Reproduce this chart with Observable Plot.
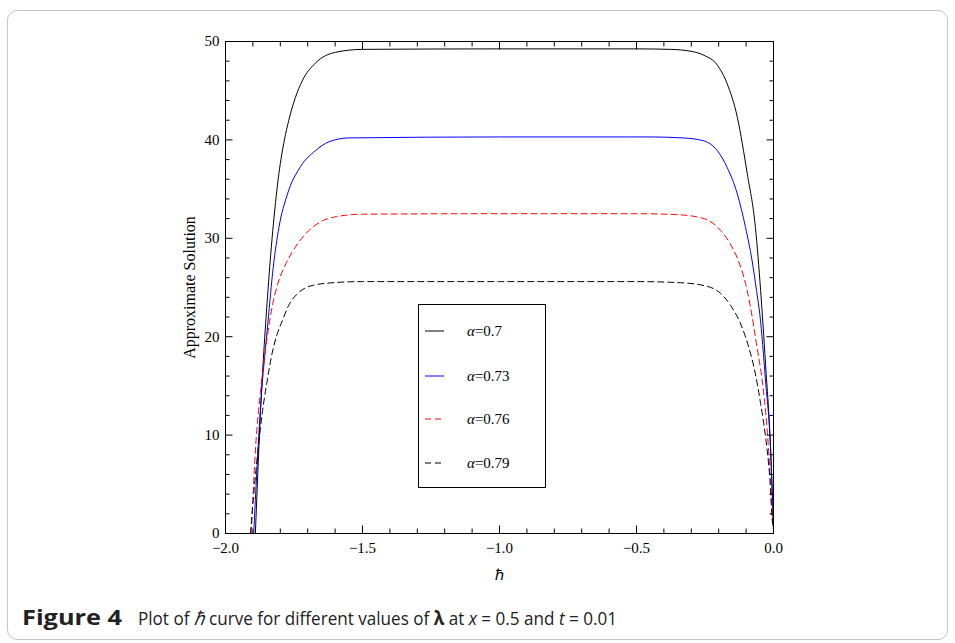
<!DOCTYPE html>
<html>
<head>
<meta charset="utf-8">
<script src="https://cdn.jsdelivr.net/npm/d3@7"></script>
<script src="https://cdn.jsdelivr.net/npm/@observablehq/plot@0.6"></script>
<style>
  html, body { margin: 0; padding: 0; background: #fff; }
  body { width: 955px; height: 643px; position: relative; overflow: hidden; }
  #card { position: absolute; left: 7px; top: 10px; width: 941px; height: 630px; border: 1px solid #c4c4c4; border-radius: 10px; box-sizing: border-box; }
  #chart { position: absolute; left: 0; top: 0; }
  #legend { position: absolute; left: 418px; top: 304px; width: 128px; height: 184px; border: 1px solid #000; box-sizing: border-box; background: #fff; font-family: "Liberation Serif", serif; font-size: 15px; }
  #legend .row { position: absolute; left: 6px; height: 20px; display: flex; align-items: center; }
  #legend .row span { margin-left: 22px; }
  #legend i { font-style: italic; }
  .cap { position: absolute; top: 605px; font-family: "Open Sans", sans-serif; line-height: 26px; color: #222; white-space: nowrap; transform-origin: 0 0; }
  #capHead { left: 22px; font-size: 21px; font-weight: 700; top: 604px; line-height: 27px; }
  #capBody { left: 138px; font-size: 19px; }
</style>
</head>
<body>
<div id="card"></div>
<div id="chart"></div>
<div id="legend"></div>
<div class="cap" id="capHead">Figure 4</div>
<div class="cap" id="capBody">Plot of <i>ℏ</i> curve for different values of <b>λ</b> at <i>x</i> = 0.5 and <i>t</i> = 0.01</div>
<script>
// ---- data ----
const seriesLabels = ["α=0.7", "α=0.73", "α=0.76", "α=0.79"];
const seriesColors = ["#000000", "#0000ff", "#ff0000", "#000000"];
const seriesDash = [null, null, "6,4", "6,4"];

const hbar070 = [-1.891, -1.872, -1.845, -1.805, -1.785, -1.769, -1.745, -1.720, -1.672, -1.599, -1.5, -1.0, -0.5, -0.376, -0.300, -0.254, -0.205, -0.169, -0.132, -0.096, -0.066, -0.047, -0.029, -0.011, 0];
const sol070  = [0, 12.5, 24.7, 36.6, 40.0, 42.0, 44.3, 46.0, 47.8, 48.9, 49.2, 49.25, 49.25, 49.2, 49.0, 48.6, 47.6, 45.7, 42.3, 36.6, 31.1, 24.7, 17.2, 8.8, 0.4];

const hbar073 = [-1.897, -1.873, -1.845, -1.826, -1.805, -1.775, -1.726, -1.672, -1.623, -1.55, -1.0, -0.45, -0.33, -0.254, -0.205, -0.169, -0.132, -0.102, -0.078, -0.062, -0.050, -0.029, -0.011, 0];
const sol073  = [0, 12.5, 21.5, 27.0, 31.1, 34.4, 37.3, 38.9, 39.8, 40.2, 40.3, 40.3, 40.2, 39.9, 38.9, 37.2, 34.5, 31.1, 27.7, 24.7, 22.3, 15.5, 8.8, 0.4];

const hbar076 = [-1.906, -1.890, -1.872, -1.853, -1.830, -1.810, -1.780, -1.743, -1.706, -1.658, -1.596, -1.5, -1.0, -0.5, -0.35, -0.254, -0.193, -0.151, -0.120, -0.096, -0.084, -0.060, -0.041, -0.023, -0.011, 0];
const sol076  = [0, 8.8, 14.5, 18.9, 23.0, 25.3, 27.4, 29.2, 30.5, 31.6, 32.2, 32.45, 32.5, 32.5, 32.4, 32.0, 30.8, 29.1, 27.1, 24.7, 23.0, 18.9, 15.5, 10.5, 5.4, 0.4];

const hbar079 = [-1.909, -1.903, -1.884, -1.866, -1.848, -1.830, -1.811, -1.793, -1.769, -1.732, -1.684, -1.6, -1.5, -1.0, -0.5, -0.35, -0.254, -0.193, -0.157, -0.120, -0.090, -0.066, -0.047, -0.029, -0.013, -0.005, 0];
const sol079  = [0, 2.0, 7.8, 12.2, 15.5, 18.3, 20.3, 21.6, 23.2, 24.5, 25.2, 25.5, 25.6, 25.6, 25.6, 25.5, 25.2, 24.4, 23.2, 21.3, 18.9, 16.2, 13.2, 9.8, 5.4, 1.5, 0.4];

const xMajorTicks = [-2.0, -1.5, -1.0, -0.5, 0.0];
const xMinorTicks = [-1.9, -1.8, -1.7, -1.6, -1.4, -1.3, -1.2, -1.1, -0.9, -0.8, -0.7, -0.6, -0.4, -0.3, -0.2, -0.1];
const yMajorTicks = [0, 10, 20, 30, 40, 50];
const yMinorTicks = [2, 4, 6, 8, 12, 14, 16, 18, 22, 24, 26, 28, 32, 34, 36, 38, 42, 44, 46, 48];

const xLabel = "ℏ";
const yLabel = "Approximate Solution";

// ---- build ----
const hbars = [hbar070, hbar073, hbar076, hbar079];
const sols = [sol070, sol073, sol076, sol079];
const series = hbars.map((h, i) => h.map((x, j) => ({x, y: sols[i][j]})));

const fmtX = d3.format(".1f");
const serif = "Liberation Serif";

const tickMarks = [];
for (const anchor of ["bottom", "top"]) {
  tickMarks.push(Plot.axisX(xMajorTicks, {anchor, tickSize: -7.5, fill: "none", label: null, stroke: "#000"}));
  tickMarks.push(Plot.axisX(xMinorTicks, {anchor, tickSize: -4.5, fill: "none", label: null, stroke: "#000"}));
}
for (const anchor of ["left", "right"]) {
  tickMarks.push(Plot.axisY(yMajorTicks, {anchor, tickSize: -7.5, fill: "none", label: null, stroke: "#000"}));
  tickMarks.push(Plot.axisY(yMinorTicks, {anchor, tickSize: -4.5, fill: "none", label: null, stroke: "#000"}));
}

const chart = Plot.plot({
  width: 955,
  height: 600,
  marginLeft: 225,
  marginRight: 182,
  marginTop: 41,
  marginBottom: 67,
  style: {fontFamily: serif, fontSize: "15px", color: "#000", background: "transparent"},
  x: {domain: [-2, 0]},
  y: {domain: [0, 50]},
  marks: [
    ...series.map((d, i) => Plot.line(d, {
      x: "x", y: "y", stroke: seriesColors[i], strokeWidth: 1,
      strokeDasharray: seriesDash[i], curve: "monotone-x", clip: true
    })),
    Plot.frame({stroke: "#000", strokeWidth: 1}),
    ...tickMarks,
    Plot.axisX(xMajorTicks, {anchor: "bottom", tickSize: 0, tickPadding: 9, tickFormat: fmtX,
      fontSize: 15, label: xLabel, labelAnchor: "center", labelOffset: 46, labelArrow: "none"}),
    Plot.axisY(yMajorTicks, {anchor: "left", tickSize: 0, tickPadding: 6, fontSize: 15,
      label: yLabel, labelAnchor: "center", labelOffset: 42, labelArrow: "none"})
  ]
});
document.getElementById("chart").appendChild(chart);
// y-axis title a little larger, as in the reference
chart.querySelectorAll("text").forEach(t => {
  if (t.textContent === yLabel) t.setAttribute("font-size", 16);
});

// legend (HTML overlay inside the frame)
const legend = document.getElementById("legend");
const rowTops = [16, 61, 104, 148];
seriesLabels.forEach((lab, i) => {
  const row = document.createElement("div");
  row.className = "row";
  row.style.top = rowTops[i] + "px";
  const dash = seriesDash[i] ? `stroke-dasharray="${seriesDash[i]}"` : "";
  row.innerHTML = `<svg width="20" height="20"><line x1="0" x2="19" y1="10" y2="10" stroke="${seriesColors[i]}" stroke-width="1" ${dash}/></svg><span><i>α</i>${lab.slice(1)}</span>`;
  legend.appendChild(row);
});

// fit caption pieces to the reference's spans
function fit(id, target) {
  const el = document.getElementById(id);
  const w = el.getBoundingClientRect().width;
  el.style.transform = `scaleX(${target / w})`;
}
fit("capHead", 100);
fit("capBody", 479);
</script>
</body>
</html>
